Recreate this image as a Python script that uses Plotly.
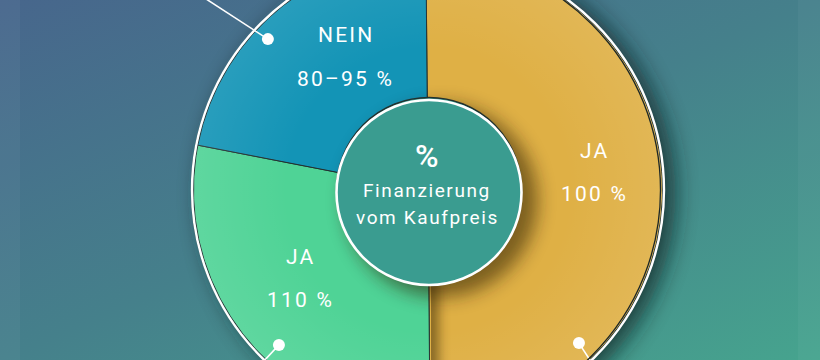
import base64
import numpy as np
import plotly.graph_objects as go

# ---------------- data ----------------
labels = ["JA", "JA", "NEIN"]
ranges = ["100 %", "110 %", "80–95 %"]
shares = [50.0, 28.2, 21.8]          # share of the circle
center_symbol = "%"
center_lines = ["Finanzierung", "vom Kaufpreis"]

# ---------------- style / layout ----------------
W, H = 820, 360
CX, CY, R = 428, 190, 234.5          # pie centre and radius (pixels)
ICX, ICY, IR = 429, 192.5, 92.5      # centre disc
START = -0.5                          # start angle, degrees clockwise from 12 o'clock
slice_colors = ["#dfb045", "#4fd396", "#1394b6"]
edge_color = "#24302f"
FONT = "Roboto"
label_pos = [(594, 151, 594, 194), (300, 257, 300, 300), (346, 35, 345, 79)]
# leader lines: (dot angle deg, dot radius, direction deg, length)
leaders = [(313.3, 220, 303, 75), (223.9, 215, 223, 30), (135.4, 215, 147, 30)]


def polar(angle_deg, r, cx=CX, cy=CY):
    a = np.radians(angle_deg)
    return cx + r * np.sin(a), cy - r * np.cos(a)


fig = go.Figure()

# slices
total = sum(shares)
a0 = START
for lab, rng, val, col in zip(labels, ranges, shares, slice_colors):
    span = 360.0 * val / total
    ang = np.linspace(a0, a0 + span, 160)
    xs, ys = polar(ang, R)
    xs = np.concatenate([[CX], xs, [CX]])
    ys = np.concatenate([[CY], ys, [CY]])
    fig.add_trace(go.Scatter(x=xs, y=ys, mode="lines", fill="toself",
                             fillcolor=col, line=dict(color=edge_color, width=1),
                             hoverinfo="text", text=f"{lab} {rng}", showlegend=False))
    a0 += span

# leader lines with dots
for ang, rd, dang, ln in leaders:
    x0, y0 = polar(ang, rd)
    x1, y1 = polar(dang, ln, x0, y0)
    fig.add_trace(go.Scatter(x=[x1, x0], y=[y1, y0], mode="lines",
                             line=dict(color="white", width=1.6),
                             hoverinfo="skip", showlegend=False))
    fig.add_trace(go.Scatter(x=[x0], y=[y0], mode="markers",
                             marker=dict(color="white", size=12, line=dict(width=0)),
                             hoverinfo="skip", showlegend=False))

# ---------------- decorative images ----------------
bg_svg = f"""<svg xmlns='http://www.w3.org/2000/svg' width='{W}' height='{H}' viewBox='0 0 {W} {H}'>
<defs>
<linearGradient id='bg' x1='0' y1='0' x2='1' y2='1'>
<stop offset='0' stop-color='#47668c'/>
<stop offset='0.5' stop-color='#45808b'/>
<stop offset='1' stop-color='#46a48e'/>
</linearGradient>
<filter id='bl' x='-30%' y='-30%' width='160%' height='160%'><feGaussianBlur stdDeviation='11'/></filter>
</defs>
<rect width='{W}' height='{H}' fill='url(#bg)'/>
<rect x='0' y='0' width='20' height='{H}' fill='#ffffff' opacity='0.035'/>
<rect x='798' y='0' width='22' height='{H}' fill='#ffffff' opacity='0.035'/>
<circle cx='{CX + 10}' cy='{CY + 4}' r='{R + 3}' fill='#0a2424' opacity='0.72' filter='url(#bl)'/>
</svg>"""

ov_svg = f"""<svg xmlns='http://www.w3.org/2000/svg' width='{W}' height='{H}' viewBox='0 0 {W} {H}'>
<defs>
<clipPath id='pie'><circle cx='{CX}' cy='{CY}' r='{R}'/></clipPath>
<clipPath id='rh'><rect x='{CX + 3}' y='0' width='{W}' height='{H}'/></clipPath>
<filter id='b1' x='-40%' y='-40%' width='180%' height='180%'><feGaussianBlur stdDeviation='9'/></filter>
<filter id='b2' x='-100%' y='-40%' width='300%' height='180%'><feGaussianBlur stdDeviation='6'/></filter>
<radialGradient id='rim' cx='{CX}' cy='{CY}' r='{R}' gradientUnits='userSpaceOnUse'>
<stop offset='0.6' stop-color='#ffffff' stop-opacity='0'/>
<stop offset='1' stop-color='#ffffff' stop-opacity='0.09'/>
</radialGradient>
</defs>
<g clip-path='url(#pie)'>
<circle cx='{CX}' cy='{CY}' r='{R}' fill='url(#rim)'/>
<circle cx='{ICX + 12}' cy='{ICY + 8}' r='{IR + 4}' fill='#2b1c02' opacity='0.55' filter='url(#b1)'/>
<g clip-path='url(#rh)'>
<rect x='{CX - 4}' y='{ICY + 40}' width='14' height='260' fill='#2b1c02' opacity='0.55' filter='url(#b2)'/>
</g>
</g>
</svg>"""


def uri(s):
    return "data:image/svg+xml;base64," + base64.b64encode(s.encode()).decode()


images = [
    dict(source=uri(bg_svg), xref="paper", yref="paper", x=0, y=1, sizex=1, sizey=1,
         xanchor="left", yanchor="top", sizing="stretch", layer="below"),
    dict(source=uri(ov_svg), xref="paper", yref="paper", x=0, y=1, sizex=1, sizey=1,
         xanchor="left", yanchor="top", sizing="stretch", layer="above"),
]

shapes = [
    dict(type="circle", xref="x", yref="y", x0=CX - R - 2, x1=CX + R - 2, y0=CY - R, y1=CY + R,
         line=dict(color="#1c2727", width=1.3), layer="above"),
    dict(type="circle", xref="x", yref="y", x0=CX - R - 1.5, x1=CX + R + 1.5,
         y0=CY - R - 1.5, y1=CY + R + 1.5, line=dict(color="white", width=2.4), layer="above"),
    dict(type="circle", xref="x", yref="y", x0=ICX - IR, x1=ICX + IR, y0=ICY - IR - 2.5, y1=ICY + IR - 2.5,
         line=dict(color="#22302e", width=1.5), fillcolor="#3a9c90", layer="above"),
    dict(type="circle", xref="x", yref="y", x0=ICX - IR, x1=ICX + IR, y0=ICY - IR, y1=ICY + IR,
         line=dict(color="white", width=2.6), fillcolor="#3a9c90", layer="above"),
]

annotations = []
lab_font = dict(family=FONT, size=21, color="white")
for (lx, ly, vx, vy), lab, rng in zip(label_pos, labels, ranges):
    annotations.append(dict(x=lx, y=ly, text=f"<span style='letter-spacing:2.2px'>{lab}</span>",
                            showarrow=False, font=lab_font))
    annotations.append(dict(x=vx, y=vy, text=f"<span style='letter-spacing:2.2px'>{rng}</span>",
                            showarrow=False, font=lab_font))
annotations.append(dict(x=427, y=156, text=center_symbol, showarrow=False,
                        font=dict(family=FONT, size=32, color="white", weight=500)))
annotations.append(dict(x=427, y=190, text=f"<span style='letter-spacing:1.6px'>{center_lines[0]}</span>",
                        showarrow=False, font=dict(family=FONT, size=19, color="white")))
annotations.append(dict(x=427, y=217, text=f"<span style='letter-spacing:1.6px'>{center_lines[1]}</span>",
                        showarrow=False, font=dict(family=FONT, size=19, color="white")))

fig.update_layout(
    width=W, height=H, margin=dict(l=0, r=0, t=0, b=0),
    paper_bgcolor="#45808b", plot_bgcolor="rgba(0,0,0,0)",
    xaxis=dict(range=[0, W], visible=False, fixedrange=True),
    yaxis=dict(range=[H, 0], visible=False, fixedrange=True),
    images=images, shapes=shapes, annotations=annotations,
    showlegend=False,
)

fig.write_html("out.html", config={"displayModeBar": False},
               post_script="document.body.style.margin='0';document.body.style.overflow='hidden';")
